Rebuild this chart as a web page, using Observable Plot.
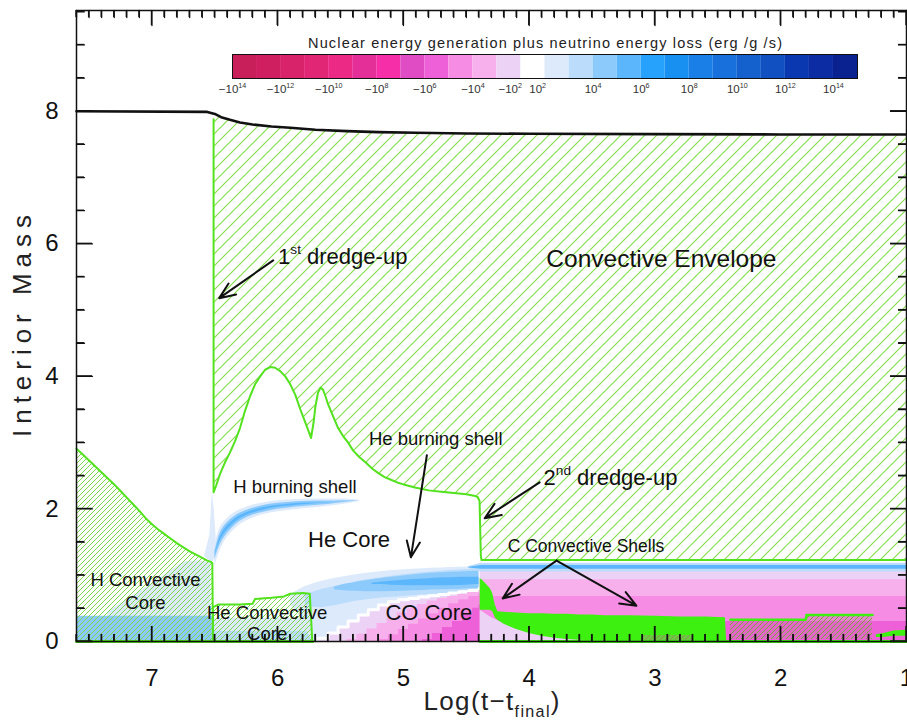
<!DOCTYPE html>
<html><head><meta charset="utf-8">
<script src="https://cdn.jsdelivr.net/npm/d3@7"></script>
<script src="https://cdn.jsdelivr.net/npm/@observablehq/plot@0.6"></script>
<style>
body{margin:0;background:#fff;}
#wrap{position:relative;width:907px;height:722px;overflow:hidden;font-family:"Liberation Sans",Arial,sans-serif;}
</style></head><body><div id="wrap"></div>
<script>
// ---------- colour bar (signed log10 of energy rate, erg/g/s) ----------
const cbThresholds = [-13,-12,-11,-10,-9,-8,-7,-6,-5,-4,-3,-2,2,3,4,5,6,7,8,9,10,11,12,13,14];
const cbColors = ["#c81e5a","#cf1f60","#d8226a","#e22676","#ec2a86","#e42e98","#f62ea8","#e04cc4","#ee60d8","#f78ce4","#f8b0ec","#ecd2f4","#ffffff","#dceafc","#bcdcfc","#8ccafc","#5cb6fc","#26a2fc","#1890f2","#1a80e8","#1870dc","#1460cc","#1050c0","#0a38b0","#0c2ca4","#0a2290"];
const cbValues = [-13.5,-12.5,-11.5,-10.5,-9.5,-8.5,-7.5,-6.5,-5.5,-4.5,-3.5,-2.5,0,2.5,3.5,4.5,5.5,6.5,7.5,8.5,9.5,10.5,11.5,12.5,13.5,14.5];
const cbTickPos = [0,2,4,6,8,10,12,13,15,17,19,21,23,25];
const cbTickText = ["−10^{14}","−10^{12}","−10^{10}","−10^{8}","−10^{6}","−10^{4}","−10^{2}","10^{2}","10^{4}","10^{6}","10^{8}","10^{10}","10^{12}","10^{14}"];
const cbTitle = "Nuclear energy generation plus neutrino energy loss (erg /g /s)";

// ---------- axes ----------
const xMajor = [1,2,3,4,5,6,7];
const yMajor = [0,2,4,6,8];
const xMinor = d3.range(10, 77).map(d => d / 10);
const yMinor = d3.range(0, 20).map(d => d / 2);
const xDomain = [7.6, 1];
const yDomain = [0, 9.52];
const xTitle = "Log(t−t_{final})";
const yTitle = "Interior Mass";

// ---------- stellar mass ----------
const massX = [7.6, 6.56, 6.50, 6.45, 6.38, 6.30, 6.20, 6.05, 5.90, 5.70, 5.45, 5.20, 4.90, 4.50, 4.00, 3.00, 2.00, 1.00];
const massY = [8.00, 7.99, 7.96, 7.91, 7.87, 7.83, 7.80, 7.77, 7.75, 7.72, 7.70, 7.685, 7.675, 7.665, 7.66, 7.655, 7.65, 7.65];

// ---------- convective envelope lower boundary ----------
const envX = [6.51, 6.51, 6.49, 6.46, 6.42, 6.38, 6.34, 6.30, 6.26, 6.22, 6.18, 6.14, 6.10, 6.06, 6.02, 5.98, 5.94, 5.90, 5.86, 5.82, 5.79, 5.76, 5.735, 5.715, 5.70, 5.68, 5.66, 5.64, 5.62, 5.60, 5.56, 5.52, 5.48, 5.44, 5.40, 5.35, 5.30, 5.25, 5.20, 5.15, 5.10, 5.05, 5.00, 4.90, 4.80, 4.70, 4.60, 4.50, 4.44, 4.41, 4.395, 4.385, 4.38, 3.00, 1.00];
const envY = [7.88, 2.25, 2.35, 2.52, 2.70, 2.85, 3.02, 3.22, 3.48, 3.70, 3.88, 4.00, 4.10, 4.14, 4.13, 4.08, 4.00, 3.88, 3.72, 3.50, 3.35, 3.20, 3.07, 3.30, 3.55, 3.75, 3.83, 3.80, 3.70, 3.58, 3.40, 3.22, 3.10, 3.00, 2.88, 2.78, 2.70, 2.61, 2.54, 2.48, 2.44, 2.40, 2.37, 2.32, 2.28, 2.26, 2.24, 2.22, 2.20, 2.18, 2.12, 1.30, 1.23, 1.23, 1.23];

// ---------- H convective core ----------
const hcX = [7.60, 7.55, 7.50, 7.45, 7.40, 7.35, 7.30, 7.25, 7.20, 7.15, 7.10, 7.05, 7.00, 6.95, 6.90, 6.85, 6.80, 6.75, 6.70, 6.65, 6.60, 6.56, 6.53, 6.52, 6.515];
const hcY = [2.91, 2.82, 2.73, 2.64, 2.55, 2.46, 2.37, 2.27, 2.17, 2.07, 1.97, 1.86, 1.77, 1.69, 1.62, 1.55, 1.48, 1.42, 1.36, 1.31, 1.26, 1.22, 1.20, 1.18, 0];
// ---------- He convective core ----------
const hecX = [6.515, 6.515, 6.50, 6.47, 6.40, 6.30, 6.20, 6.18, 6.05, 5.95, 5.90, 5.80, 5.745, 5.725];
const hecY = [0, 0.52, 0.53, 0.56, 0.56, 0.56, 0.57, 0.64, 0.66, 0.68, 0.72, 0.73, 0.72, 0];

// ---------- burning in the cores (energy level = signed log10) ----------
const hcBlueX = [7.60, 6.52]; const hcBlueHi = [0.38, 0.38];
const hcPaleX = [7.35, 7.10, 6.90, 6.75, 6.62, 6.53]; const hcPaleHi = [0.45, 0.75, 1.00, 1.20, 1.22, 1.18];
const heCoreX = [6.51, 5.73]; const heCoreHi = [0.15, 0.15]; const heCorePaleHi = [0.35, 0.35];

// ---------- H burning shell ----------
const hsX = [6.50, 6.47, 6.44, 6.40, 6.35, 6.30, 6.22, 6.14, 6.05, 5.95, 5.85, 5.75, 5.65, 5.55, 5.47, 5.40, 5.35];
const hsY = [1.30, 1.50, 1.62, 1.72, 1.81, 1.88, 1.95, 1.99, 2.03, 2.05, 2.07, 2.08, 2.09, 2.10, 2.11, 2.12, 2.12];
const hsW1 = [0.16, 0.18, 0.16, 0.14, 0.13, 0.11, 0.10, 0.09, 0.085, 0.08, 0.075, 0.07, 0.06, 0.05, 0.04, 0.025, 0.01];
const hsW2 = [0.06, 0.09, 0.09, 0.08, 0.07, 0.06, 0.055, 0.05, 0.05, 0.045, 0.04, 0.035, 0.03, 0.02, 0.012, 0.005, 0];
const hsW3 = [0, 0.03, 0.035, 0.035, 0.03, 0.025, 0.02, 0.02, 0.018, 0.015, 0.012, 0.008, 0.004, 0, 0, 0, 0];
const spikeX = [6.58, 6.54, 6.52, 6.505, 6.49]; const spikeLo = [1.28, 1.22, 1.20, 1.22, 1.35]; const spikeHi = [1.30, 1.60, 2.25, 2.00, 1.60];

// ---------- He burning lens ----------
const heL1X = [5.90, 5.82, 5.74, 5.66, 5.58, 5.50, 5.40, 5.30, 5.20, 5.10, 5.00, 4.85, 4.70, 4.55, 4.40];
const heL1Lo = [0.55, 0.40, 0, 0, 0, 0, 0, 0, 0, 0, 0, 0, 0, 0, 0];
const heL1Hi = [0.70, 0.80, 0.86, 0.90, 0.94, 0.97, 1.00, 1.03, 1.05, 1.07, 1.08, 1.10, 1.11, 1.12, 1.13];
const heL2X = [5.78, 5.70, 5.60, 5.50, 5.40, 5.30, 5.15, 5.00, 4.85, 4.70, 4.55, 4.40];
const heL2Lo = [0.55, 0.50, 0.52, 0.56, 0.60, 0.63, 0.66, 0.68, 0.70, 0.72, 0.74, 0.76];
const heL2Hi = [0.70, 0.76, 0.81, 0.85, 0.89, 0.93, 0.97, 1.01, 1.04, 1.06, 1.08, 1.09];
const heL3X = [5.55, 5.45, 5.30, 5.15, 5.00, 4.85, 4.70, 4.55, 4.40];
const heL3Lo = [0.78, 0.76, 0.75, 0.75, 0.76, 0.77, 0.78, 0.79, 0.80];
const heL3Hi = [0.82, 0.87, 0.92, 0.96, 0.99, 1.02, 1.04, 1.05, 1.06];
const heL4X = [5.25, 5.10, 4.95, 4.80, 4.65, 4.50, 4.40];
const heL4Lo = [0.86, 0.85, 0.84, 0.84, 0.84, 0.85, 0.86];
const heL4Hi = [0.88, 0.91, 0.93, 0.95, 0.96, 0.97, 0.97];

// ---------- CO core (neutrino losses), staircase layers ----------
const coLavX = [5.68, 5.60, 5.52, 5.44, 5.36, 5.28, 5.20, 5.12, 5.04, 4.96, 4.88, 4.80, 4.72, 4.64, 4.56, 4.48, 4.40, 4.39, 1.00];
const coLavY = [0.05, 0.13, 0.22, 0.31, 0.40, 0.48, 0.55, 0.60, 0.63, 0.65, 0.67, 0.69, 0.71, 0.73, 0.75, 0.77, 0.80, 1.08, 1.08];
const coLpX = [5.45, 5.37, 5.29, 5.21, 5.13, 5.05, 4.97, 4.89, 4.81, 4.73, 4.65, 4.57, 4.49, 4.40, 4.39, 1.00];
const coLpY = [0.03, 0.11, 0.19, 0.27, 0.35, 0.43, 0.50, 0.56, 0.61, 0.65, 0.68, 0.71, 0.74, 0.77, 0.93, 0.93];
const coPkX = [5.20, 5.12, 5.04, 4.96, 4.88, 4.80, 4.72, 4.64, 4.56, 4.48, 4.40, 4.39, 1.00];
const coPkY = [0.03, 0.10, 0.18, 0.26, 0.34, 0.42, 0.50, 0.57, 0.63, 0.68, 0.72, 0.68, 0.68];
const coDpX = [4.85, 4.77, 4.69, 4.61, 4.53, 4.45, 4.40, 4.39];
const coDpY = [0.03, 0.12, 0.21, 0.30, 0.40, 0.50, 0.55, 0];
const coDeepX = [2.45, 1.00]; const coDeepY = [0.30, 0.30];
const coTriX = [4.39, 4.30, 4.20, 4.10, 4.00, 3.85, 3.70, 3.50];
const coTriY = [0.47, 0.36, 0.27, 0.19, 0.13, 0.07, 0.04, 0.01];
const blueX = [4.48, 4.38, 1.00];
const blueHaloLo = [1.10, 1.05, 1.05]; const blueHaloHi = [1.13, 1.18, 1.18];
const blueCoreLo = [1.11, 1.09, 1.09]; const blueCoreHi = [1.12, 1.145, 1.145];

// ---------- C convective shells ----------
const csX  = [4.39, 4.37, 4.34, 4.31, 4.29, 4.27, 4.25, 4.20, 4.10, 4.00, 3.90, 3.80, 3.70, 3.60, 3.50, 3.40, 3.20, 3.00, 2.80, 2.60, 2.44, 2.43];
const csHi = [0.95, 0.92, 0.86, 0.80, 0.72, 0.55, 0.45, 0.44, 0.43, 0.42, 0.42, 0.41, 0.41, 0.40, 0.40, 0.39, 0.39, 0.38, 0.37, 0.37, 0.36, 0.0];
const csLo = [0.47, 0.47, 0.47, 0.47, 0.45, 0.36, 0.32, 0.26, 0.18, 0.12, 0.08, 0.05, 0.03, 0.02, 0.01, 0, 0, 0, 0, 0, 0, 0];
const cBox1X = [3.10, 2.70]; const cBox1Lo = [0.01, 0.01]; const cBox1Hi = [0.09, 0.09];
const cBox2X = [2.40, 1.80, 1.795, 1.27]; const cBox2Lo = [0.03, 0.03, 0.03, 0.03]; const cBox2Hi = [0.33, 0.33, 0.40, 0.40];
const cRightX = [1.24, 1.18, 1.10, 1.00]; const cRightLo = [0.06, 0.06, 0.08, 0.08]; const cRightHi = [0.10, 0.12, 0.16, 0.17];

// ---------- annotations ----------
const annText = ["1^{st} dredge-up", "Convective Envelope", "H burning shell", "He burning shell", "He Core", "2^{nd} dredge-up", "C Convective Shells", "H Convective\nCore", "He Convective\nCore", "CO Core"];
const annX = [5.997, 2.949, 6.354, 5.275, 5.433, 3.886, 4.171, 7.052, 6.084, 4.798];
const annY = [5.796, 5.766, 2.325, 3.049, 1.525, 2.46, 1.434, 0.77, 0.28, 0.438];
const arrowX1 = [6.036, 4.814, 3.917, 3.783, 3.783];
const arrowY1 = [5.75, 2.81, 2.40, 1.22, 1.22];
const arrowX2 = [6.465, 4.941, 4.354, 4.211, 3.148];
const arrowY2 = [5.18, 1.27, 1.86, 0.65, 0.54];

// ================= drawing =================
const W = 907, H = 722, ML = 76, MR = 1, MT = 10, MB = 81;
const FW = W - ML - MR, FH = H - MT - MB;
const annStyle = [
  {anchor: "start", size: 22}, {anchor: "middle", size: 24.5}, {anchor: "start", size: 18.5},
  {anchor: "start", size: 18.5}, {anchor: "middle", size: 22}, {anchor: "start", size: 22},
  {anchor: "start", size: 17.5}, {anchor: "middle", size: 18.5, lh: 1.2},
  {anchor: "middle", size: 18.5, lh: 1.15}, {anchor: "middle", size: 22}
];
const GREEN = "#52e21e", SOLID = "#3ef010", INK = "#111";
const colorScale = {type: "threshold", domain: cbThresholds, range: cbColors};
const pts = (xs, ys) => xs.map((x, i) => ({x, y: ys[i]}));
const band = (xs, lo, hi) => xs.map((x, i) => ({x, lo: typeof lo === "number" ? lo : lo[i], hi: typeof hi === "number" ? hi : hi[i]}));
const layer = (rows, level, extra = {}) => Plot.areaY(rows, {x: "x", y1: "lo", y2: "hi", fill: () => level, ...extra});
const shell = (w) => hsX.map((x, i) => ({x, lo: hsY[i] - w[i], hi: hsY[i] + w[i]}));
const yTop = yDomain[1];

// inward tick segments (tick length converted from pixels to data units)
const yPerPx = (yDomain[1] - yDomain[0]) / FH;
const xPerPx = (xDomain[0] - xDomain[1]) / FW;
const tickSegs = [];
for (const v of xMinor) {
  const L = (xMajor.includes(v) ? 15 : 7) * yPerPx;
  tickSegs.push({x: v, y: 0, k: "b" + v}, {x: v, y: L, k: "b" + v});
  tickSegs.push({x: v, y: yTop, k: "t" + v}, {x: v, y: yTop - L, k: "t" + v});
}
for (const v of yMinor) {
  const L = (yMajor.includes(v) ? 16 : 8) * xPerPx;
  tickSegs.push({x: xDomain[0], y: v, k: "l" + v}, {x: xDomain[0] - L, y: v, k: "l" + v});
  tickSegs.push({x: xDomain[1], y: v, k: "r" + v}, {x: xDomain[1] + L, y: v, k: "r" + v});
}

const main = Plot.plot({
  width: W, height: H,
  marginLeft: ML, marginRight: MR, marginTop: MT, marginBottom: MB,
  x: {domain: xDomain}, y: {domain: yDomain},
  color: colorScale,
  style: {fontFamily: "Liberation Sans, Arial, sans-serif", color: INK, background: "white", overflow: "visible"},
  marks: [
    layer(band(hcPaleX, 0, hcPaleHi), 2.5),
    layer(band(hcBlueX, 0, hcBlueHi), 4.5),
    layer(band(heCoreX, 0, heCorePaleHi), 2.5),
    layer(band(heCoreX, 0, heCoreHi), 3.5),
    layer(band(heL1X, heL1Lo, heL1Hi), 2.5, {curve: "basis"}),
    layer(band(heL2X, heL2Lo, heL2Hi), 3.5, {curve: "basis"}),
    layer(band(heL3X, heL3Lo, heL3Hi), 4.5, {curve: "basis"}),
    layer(band(heL4X, heL4Lo, heL4Hi), 5.5, {curve: "basis"}),
    layer(band(coLavX, 0, coLavY), -2.5, {curve: "step-after"}),
    Plot.line(pts(coLavX.slice(0, 17), coLavY.slice(0, 17)), {x: "x", y: "y", curve: "step-after", stroke: "white", strokeWidth: 3}),
    layer(band(coLpX, 0, coLpY), -3.5, {curve: "step-after"}),
    layer(band(coPkX, 0, coPkY), -4.5, {curve: "step-after"}),
    layer(band(coDpX, 0, coDpY), -5.5, {curve: "step-after"}),
    layer(band(coDeepX, 0, coDeepY), -5.5),
    layer(band(coTriX, 0, coTriY), -2.5),
    layer(band(blueX, blueHaloLo, blueHaloHi), 3.5),
    layer(band(blueX, blueCoreLo, blueCoreHi), 5.5),
    layer(band(spikeX, spikeLo, spikeHi), 2.5),
    layer(shell(hsW1), 2.5, {curve: "basis"}),
    layer(shell(hsW2), 4.5, {curve: "basis"}),
    layer(shell(hsW3), 5.5, {curve: "basis"}),
    Plot.areaY(band(csX, csLo, csHi), {x: "x", y1: "lo", y2: "hi", fill: SOLID}),
    Plot.areaY(band(cBox1X, cBox1Lo, cBox1Hi), {x: "x", y1: "lo", y2: "hi", fill: "url(#hatchC)"}),
    Plot.areaY(band(cBox2X, cBox2Lo, cBox2Hi), {x: "x", y1: "lo", y2: "hi", fill: "url(#hatchC)"}),
    Plot.line(pts(cBox2X, cBox2Hi), {x: "x", y: "y", stroke: SOLID, strokeWidth: 2.5}),
    Plot.areaY(band(cRightX, cRightLo, cRightHi), {x: "x", y1: "lo", y2: "hi", fill: SOLID}),
    Plot.areaY(pts(envX, envY), {x: "x", y1: "y", y2: () => yTop, fill: "url(#hatchEnv)"}),
    Plot.areaY(pts(massX, massY), {x: "x", y1: "y", y2: () => yTop, fill: "white"}),
    Plot.areaY(pts(hcX, hcY), {x: "x", y1: () => 0, y2: "y", fill: "url(#hatchCore)"}),
    Plot.areaY(pts(hecX, hecY), {x: "x", y1: () => 0, y2: "y", fill: "url(#hatchCore)"}),
    Plot.line(pts(envX, envY), {x: "x", y: "y", stroke: GREEN, strokeWidth: 2}),
    Plot.line(pts(hcX, hcY), {x: "x", y: "y", stroke: GREEN, strokeWidth: 2}),
    Plot.line(pts(hecX, hecY), {x: "x", y: "y", stroke: GREEN, strokeWidth: 2}),
    Plot.line(pts([7.6, 5.72], [0, 0]), {x: "x", y: "y", stroke: GREEN, strokeWidth: 3}),
    Plot.line(pts([4.39, 1.0], [0, 0]), {x: "x", y: "y", stroke: SOLID, strokeWidth: 3}),
    Plot.line(pts(massX, massY), {x: "x", y: "y", stroke: INK, strokeWidth: 2.6}),
    Plot.frame({stroke: INK, strokeWidth: 1.5}),
    Plot.line(tickSegs, {x: "x", y: "y", z: "k", stroke: INK, strokeWidth: 1.3}),
    Plot.axisX({anchor: "bottom", ticks: xMajor, tickSize: 0, tickPadding: 27, fontSize: 24, label: null, tickFormat: d => String(d), fill: INK}),
    Plot.axisY({anchor: "left", ticks: yMajor, tickSize: 0, tickPadding: 18, fontSize: 24, label: null, tickFormat: d => String(d), fill: INK}),
    Plot.text([yTitle], {frameAnchor: "left", dx: -54, rotate: -90, textAnchor: "middle", lineAnchor: "middle", fontSize: 26, fill: "#222"}),
    Plot.text([xTitle], {frameAnchor: "bottom", dy: 60, textAnchor: "middle", lineAnchor: "middle", fontSize: 26, fill: "#222"}),
    ...annText.map((t, i) => Plot.text([i], {x: j => annX[j], y: j => annY[j], text: j => annText[j], textAnchor: annStyle[i].anchor, fontSize: annStyle[i].size, lineHeight: annStyle[i].lh ?? 1, fill: INK})),
    Plot.arrow(arrowX1.map((x1, i) => ({x1, y1: arrowY1[i], x2: arrowX2[i], y2: arrowY2[i]})), {x1: "x1", y1: "y1", x2: "x2", y2: "y2", stroke: INK, strokeWidth: 2, headLength: 13, headAngle: 45})
  ]
});

// hatch patterns
const defs = d3.select(main).insert("defs", ":first-child");
function hatch(id, s, color, width, bg) {
  const p = defs.append("pattern").attr("id", id).attr("patternUnits", "userSpaceOnUse").attr("width", s).attr("height", s);
  if (bg) p.append("rect").attr("width", s).attr("height", s).attr("fill", bg);
  p.append("path").attr("d", `M0,${s} L${s},0 M${-s/4},${s/4} L${s/4},${-s/4} M${s*3/4},${s*5/4} L${s*5/4},${s*3/4}`)
    .attr("stroke", color).attr("stroke-width", width).attr("fill", "none");
}
hatch("hatchEnv", 12, "#88dc50", 1.2);
hatch("hatchCore", 5, "#7cd84a", 1.0);
hatch("hatchC", 5, "#7ea040", 1.0, "rgba(200,120,170,0.35)");

// colour bar
const cbar = Plot.plot({
  width: 700, height: 76, marginLeft: 40, marginRight: 35, marginTop: 26, marginBottom: 26,
  x: {domain: [0, 26], axis: null}, y: {domain: [0, 1], axis: null},
  color: colorScale,
  style: {fontFamily: "Liberation Sans, Arial, sans-serif", background: "transparent", overflow: "visible"},
  marks: [
    Plot.rect(cbValues, {x1: (d, i) => i, x2: (d, i) => i + 1, y1: () => 0, y2: () => 1, fill: d => d}),
    Plot.frame({stroke: INK, strokeWidth: 1}),
    Plot.text([cbTitle], {frameAnchor: "top", dy: -11, lineAnchor: "middle", fontSize: 14.5, fill: "#222"}),
    Plot.text(cbTickPos.filter(p => p !== 12 && p !== 13), {x: d => d, text: d => cbTickText[cbTickPos.indexOf(d)], frameAnchor: "bottom", dy: 11, lineAnchor: "middle", fontSize: 11.5, fill: "#333"}),
    Plot.text([12, 13], {x: d => d, text: d => cbTickText[cbTickPos.indexOf(d)], frameAnchor: "bottom", dy: 11, dx: 1, lineAnchor: "middle", textAnchor: "end", fontSize: 11.5, fill: "#333"})
  ]
});
cbar.style.position = "absolute"; cbar.style.left = "192px"; cbar.style.top = "28px";

// rich text: ^{sup} and _{sub}
function richNode(el) {
  const s = el.textContent;
  if (!/[\^_]\{/.test(s)) return;
  el.textContent = "";
  const re = /([\^_])\{([^}]*)\}|([^\^_]+)/g;
  let m, back = 0;
  while ((m = re.exec(s))) {
    const t = document.createElementNS("http://www.w3.org/2000/svg", "tspan");
    if (m[1]) {
      const up = m[1] === "^";
      t.textContent = m[2];
      t.setAttribute("font-size", "0.62em");
      t.setAttribute("dy", up ? "-0.75em" : "0.45em");
      back = up ? 0.75 * 0.62 : -0.45 * 0.62;
    } else {
      t.textContent = m[3];
      if (back) t.setAttribute("dy", back + "em");
      back = 0;
    }
    el.appendChild(t);
  }
}
for (const svg of [main, cbar]) {
  d3.select(svg).selectAll("text").each(function () {
    if (this.childElementCount) d3.select(this).selectAll("tspan").each(function () { richNode(this); });
    else richNode(this);
  });
}
const stretch = (svg, match, len) => d3.select(svg).selectAll("text")
  .filter(function () { return this.textContent === match; })
  .attr("textLength", len).attr("lengthAdjust", "spacing");
stretch(cbar, cbTitle, 474);
stretch(main, yTitle, 222);
stretch(main, xTitle.replace(/_\{([^}]*)\}/, "$1"), 136);

// inward ticks also drawn directly with the chart's own x/y scales, on top of everything
const sx = main.scale("x"), sy = main.scale("y");
const gT = d3.select(main).append("g").attr("class", "inward-ticks")
  .attr("stroke", "#111").attr("stroke-width", 1.3).attr("fill", "none");
const px0 = sx.apply(xDomain[0]), px1 = sx.apply(xDomain[1]);
const py0 = sy.apply(yDomain[0]), py1 = sy.apply(yDomain[1]);
for (const v of xMinor) {
  const L = xMajor.includes(v) ? 15 : 7, X = sx.apply(v);
  gT.append("line").attr("x1", X).attr("x2", X).attr("y1", py0).attr("y2", py0 - L);
  gT.append("line").attr("x1", X).attr("x2", X).attr("y1", py1).attr("y2", py1 + L);
}
for (const v of yMinor) {
  const L = yMajor.includes(v) ? 16 : 8, Y = sy.apply(v);
  gT.append("line").attr("x1", px0).attr("x2", px0 + L).attr("y1", Y).attr("y2", Y);
  gT.append("line").attr("x1", px1).attr("x2", px1 - L).attr("y1", Y).attr("y2", Y);
}

const wrap = document.getElementById("wrap");
wrap.appendChild(main);
wrap.appendChild(cbar);
</script></body></html>
